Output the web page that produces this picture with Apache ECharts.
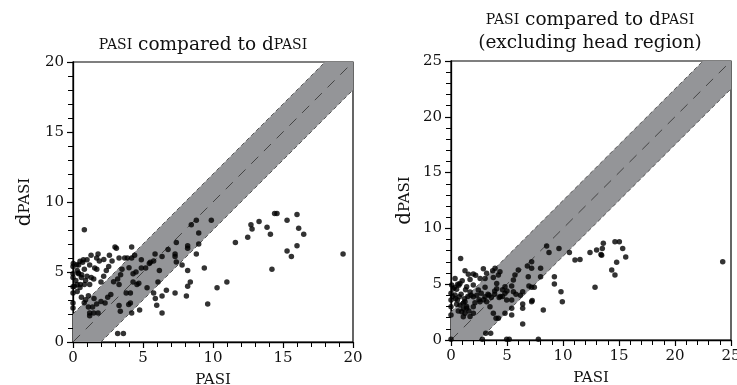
<!DOCTYPE html>
<html>
<head>
<meta charset="utf-8">
<script src="https://cdn.jsdelivr.net/npm/echarts@6/dist/echarts.min.js"></script>
<style>
  html, body { margin: 0; padding: 0; background: #fff; }
  #chart { width: 737px; height: 385px; }
</style>
</head>
<body>
<div id="chart"></div>
<script>
// PASI vs dPASI, all body regions
const pasiAll = [
  0.81, 19.29, 15.29, 16.0, 16.12, 16.48, 16.0, 15.29, 15.6, 14.21, 14.4, 14.57, 13.86, 14.1, 13.29,
  12.71, 12.79, 12.48, 11.6, 10.99, 10.29, 9.62, 9.88, 8.98, 8.98, 8.81, 8.45, 8.81, 9.38, 8.38,
  8.19, 8.1, 8.19, 8.19, 8.19, 7.79, 7.38, 7.38, 7.29, 7.29, 7.29, 6.79, 6.67, 6.36, 6.36,
  6.36, 6.17, 6.07, 5.86, 5.76, 5.76, 5.88, 5.98, 5.52, 5.45, 5.19, 5.29, 4.88, 4.88, 4.76,
  4.57, 4.4, 4.19, 4.19, 4.29, 4.29, 4.19, 4.1, 4.1, 3.98, 3.88, 3.6, 3.19, 3.38, 3.29,
  3.29, 3.19, 3.5, 3.69, 3.29, 3.0, 3.1, 2.79, 2.55, 2.38, 2.19, 2.0, 2.48, 2.29, 1.79,
  1.69, 1.88, 1.55, 1.48, 1.29, 1.19, 1.0, 0.69, 0.4, 0.4, 0.81, 1.0, 0.29, 0.52, 0.81,
  1.19, 0.1, 0.0, 0.0, 0.0, 0.0, 0.0, 0.6, 0.9, 1.1, 1.19, 1.48, 1.19, 1.69, 1.79,
  0.02, 0.0, 0.0, 0.26, 0.5, 0.74, 0.38, 0.62, 0.3, 0.6, 0.2, 0.5, 0.9, 1.3, 1.1,
  1.5, 0.8, 0.3, 1.7, 2.2, 2.6, 2.9, 3.4, 4.0, 4.5, 4.7, 3.8, 2.7, 1.4, 2.0
];
const dpasiAll = [
  8.02, 6.29, 8.69, 9.1, 8.12, 7.69, 6.88, 6.5, 6.1, 5.19, 9.17, 9.17, 8.19, 7.69, 8.6,
  8.38, 8.07, 7.48, 7.1, 4.29, 3.88, 2.71, 8.69, 7.79, 7.0, 8.69, 8.38, 6.29, 5.29, 4.29,
  3.98, 3.29, 5.1, 6.88, 6.69, 5.5, 5.71, 7.1, 6.29, 6.1, 3.5, 6.6, 3.69, 6.1, 3.29,
  2.07, 5.1, 4.29, 6.29, 5.79, 3.5, 3.1, 2.62, 5.69, 5.6, 5.29, 3.88, 5.29, 5.88, 2.29,
  4.1, 6.19, 6.79, 6.0, 4.88, 4.29, 2.07, 2.79, 3.5, 2.67, 6.0, 0.6, 0.6, 2.19, 2.6,
  4.1, 4.5, 5.19, 6.0, 6.0, 6.79, 6.7, 5.79, 5.4, 5.1, 4.69, 4.29, 3.19, 2.79, 6.29,
  6.0, 5.79, 5.29, 4.5, 6.19, 5.5, 5.88, 5.69, 5.5, 4.88, 5.19, 4.69, 4.1, 4.1, 4.1,
  4.1, 3.98, 5.4, 4.88, 3.5, 2.79, 2.43, 3.19, 3.02, 2.5, 2.07, 2.07, 1.88, 2.71, 2.07,
  5.6, 4.6, 3.95, 5.52, 5.76, 5.88, 4.93, 4.81, 5.1, 4.6, 4.4, 3.9, 4.4, 4.6, 3.3,
  3.1, 2.8, 3.6, 5.2, 5.9, 6.2, 4.3, 4.8, 5.3, 5.0, 4.2, 3.5, 3.4, 2.5, 2.9
];

// PASI vs dPASI, head region left out
const pasiNoHead = [
  24.26, 15.6, 15.33, 15.03, 14.64, 14.79, 14.64, 14.35, 13.6, 13.51, 13.39, 13.45, 13.0, 12.86, 12.41,
  11.52, 11.07, 10.57, 9.64, 8.75, 8.54, 8.0, 8.0, 7.8, 8.24, 9.23, 9.23, 9.82, 9.94, 7.2,
  7.2, 7.44, 7.2, 7.2, 7.25, 6.82, 6.9, 6.96, 6.4, 6.4, 6.4, 6.4, 6.01, 5.71, 5.57,
  5.42, 5.57, 5.42, 5.42, 5.42, 4.97, 5.2, 4.82, 4.82, 4.82, 4.97, 4.37, 4.23, 4.08, 4.08,
  3.93, 3.78, 3.72, 3.54, 3.1, 2.8, 4.23, 4.02, 3.78, 3.48, 3.18, 3.04, 3.04, 3.04, 2.89,
  3.18, 2.44, 2.59, 2.14, 1.99, 1.99, 1.99, 1.7, 1.4, 1.25, 1.25, 1.4, 1.25, 1.1, 0.86,
  0.8, 0.74, 0.5, 0.36, 0.06, 0.0, 0.0, 0.0, 0.0, 0.0, 0.36, 0.57, 0.8, 0.95, 1.7,
  1.99, 1.7, 0.2, 0.4, 0.6, 0.9, 1.1, 1.3, 1.5, 1.6, 0.7, 1.0, 1.2, 2.3, 2.6,
  2.7, 3.3, 3.6, 3.9, 4.4, 4.6, 2.2, 2.5, 1.8, 1.1, 0.5, 0.3, 1.4, 2.0, 2.9,
  3.4, 3.9, 4.3, 4.6, 5.0, 5.8, 6.2, 0.15, 0.65, 1.55
];
const dpasiNoHead = [
  7.01, 7.43, 8.21, 8.81, 8.81, 6.96, 5.82, 6.27, 8.66, 8.21, 7.67, 7.6, 8.06, 4.72, 7.85,
  7.22, 7.16, 7.85, 8.21, 7.85, 8.42, 6.42, 5.67, 0.06, 2.69, 5.67, 5.01, 4.33, 3.43, 6.42,
  7.01, 4.72, 4.72, 3.43, 3.55, 6.63, 5.67, 4.84, 4.33, 3.22, 2.84, 1.43, 6.27, 5.82, 5.37,
  4.84, 4.33, 3.58, 2.84, 2.24, 0.06, 0.06, 2.39, 4.78, 4.18, 3.58, 6.12, 5.82, 5.07, 4.6,
  6.42, 5.61, 6.21, 0.6, 0.6, 0.06, 1.94, 1.94, 2.39, 2.99, 3.43, 3.88, 4.72, 5.52, 6.39,
  5.97, 4.48, 3.43, 3.34, 3.88, 4.93, 5.91, 5.43, 4.78, 6.21, 3.43, 2.84, 2.39, 2.09, 7.31,
  5.07, 3.88, 4.54, 5.52, 4.93, 4.18, 3.58, 2.99, 2.24, 0.06, 4.03, 3.58, 3.13, 2.54, 4.3,
  2.99, 2.1, 4.6, 3.7, 5.0, 4.1, 3.3, 4.5, 3.9, 2.6, 4.9, 5.3, 3.7, 4.0, 5.5,
  4.2, 4.1, 3.8, 4.4, 3.9, 4.5, 5.8, 3.6, 4.0, 2.8, 3.2, 4.7, 3.0, 2.4, 3.6,
  4.0, 4.1, 3.8, 3.9, 4.4, 4.1, 4.0, 3.9, 2.6, 5.9
];

// Agreement band (identity line +/- 10% of scale), clipped to each plot square
const bandAll = [[0, 0], [0, 2], [18, 20], [20, 20], [20, 18], [2, 0]];
const upperAll = [[0, 2], [18, 20]];
const lowerAll = [[2, 0], [20, 18]];
const identityAll = [[0, 0], [20, 20]];
const bandNoHead = [[0, 0], [0, 2.5], [22.5, 25], [25, 25], [25, 22.5], [2.5, 0]];
const upperNoHead = [[0, 2.5], [22.5, 25]];
const lowerNoHead = [[2.5, 0], [25, 22.5]];
const identityNoHead = [[0, 0], [25, 25]];

const maxAll = 20, maxNoHead = 25;
const FONT = 'DejaVu Serif';

const zip = (xs, ys) => xs.map((x, i) => [x, ys[i]]);

// small caps are imitated with a smaller upper-case run
const richText = {
  sc: { fontSize: 14, fontFamily: FONT, fontWeight: 'normal', color: '#111' },
  n: { fontSize: 18.5, fontFamily: FONT, fontWeight: 'normal', color: '#111' }
};
const axisNameText = {
  sc: { fontSize: 15, fontFamily: FONT, fontWeight: 'normal', color: '#111' },
  n: { fontSize: 20, fontFamily: FONT, fontWeight: 'normal', color: '#111' }
};

function axisCommon(max) {
  return {
    type: 'value', min: 0, max: max, interval: 5,
    axisLine: { show: true, lineStyle: { color: '#000', width: 1.3 } },
    axisTick: { show: true, inside: false, length: 6, lineStyle: { color: '#000', width: 1.2 } },
    minorTick: { show: true, splitNumber: 5, length: 5, lineStyle: { color: '#000', width: 1 } },
    splitLine: { show: false },
    axisLabel: { fontFamily: FONT, fontSize: 15, color: '#111', margin: 9 },
    nameLocation: 'middle',
    nameTextStyle: { rich: axisNameText }
  };
}

function bandSeries(idx, poly) {
  return {
    type: 'custom', xAxisIndex: idx, yAxisIndex: idx, silent: true, z: 1,
    data: [0],
    renderItem: function (params, api) {
      return {
        type: 'polygon',
        shape: { points: poly.map(p => api.coord(p)) },
        style: { fill: '#949598' }
      };
    }
  };
}

function dashSeries(idx, pts, dash, color, width) {
  return {
    type: 'line', xAxisIndex: idx, yAxisIndex: idx, data: pts, symbol: 'none', silent: true, z: 2,
    lineStyle: { color: color, width: width, type: dash }
  };
}

function dotSeries(idx, xs, ys) {
  return {
    type: 'scatter', xAxisIndex: idx, yAxisIndex: idx, data: zip(xs, ys),
    symbolSize: 5.5, itemStyle: { color: '#000' }, z: 5
  };
}

const chart = echarts.init(document.getElementById('chart'), null, { renderer: 'canvas' });
chart.setOption({
  animation: false,
  backgroundColor: '#fff',
  title: [
    {
      text: '{sc|PASI}{n| compared to d}{sc|PASI}',
      left: 198, top: 31, textAlign: 'center',
      textStyle: { rich: richText, fontWeight: 'normal' }
    },
    {
      text: '{sc|PASI}{n| compared to d}{sc|PASI}\n{n|(excluding head region)}',
      left: 585, top: 4, textAlign: 'center',
      textStyle: { rich: richText, fontWeight: 'normal', lineHeight: 23 }
    }
  ],
  grid: [
    { left: 73, top: 62, width: 280, height: 280, outerBoundsMode: 'none', containLabel: false, show: true, borderColor: '#000', borderWidth: 1.2, backgroundColor: 'transparent' },
    { left: 451, top: 61, width: 280, height: 279, outerBoundsMode: 'none', containLabel: false, show: true, borderColor: '#000', borderWidth: 1.2, backgroundColor: 'transparent' }
  ],
  xAxis: [
    Object.assign(axisCommon(maxAll), { gridIndex: 0, name: '{sc|PASI}', nameGap: 31 }),
    Object.assign(axisCommon(maxNoHead), { gridIndex: 1, name: '{sc|PASI}', nameGap: 31 })
  ],
  yAxis: [
    Object.assign(axisCommon(maxAll), { gridIndex: 0, name: '{n|d}{sc|PASI}', nameGap: 38 }),
    Object.assign(axisCommon(maxNoHead), { gridIndex: 1, name: '{n|d}{sc|PASI}', nameGap: 36 })
  ],
  series: [
    bandSeries(0, bandAll),
    dashSeries(0, upperAll, [4, 3], '#3a3a3a', 0.8),
    dashSeries(0, lowerAll, [4, 3], '#3a3a3a', 0.8),
    dashSeries(0, identityAll, [10, 8], '#444', 1),
    dotSeries(0, pasiAll, dpasiAll),
    bandSeries(1, bandNoHead),
    dashSeries(1, upperNoHead, [4, 3], '#3a3a3a', 0.8),
    dashSeries(1, lowerNoHead, [4, 3], '#3a3a3a', 0.8),
    dashSeries(1, identityNoHead, [10, 8], '#444', 1),
    dotSeries(1, pasiNoHead, dpasiNoHead)
  ]
});
</script>
</body>
</html>
